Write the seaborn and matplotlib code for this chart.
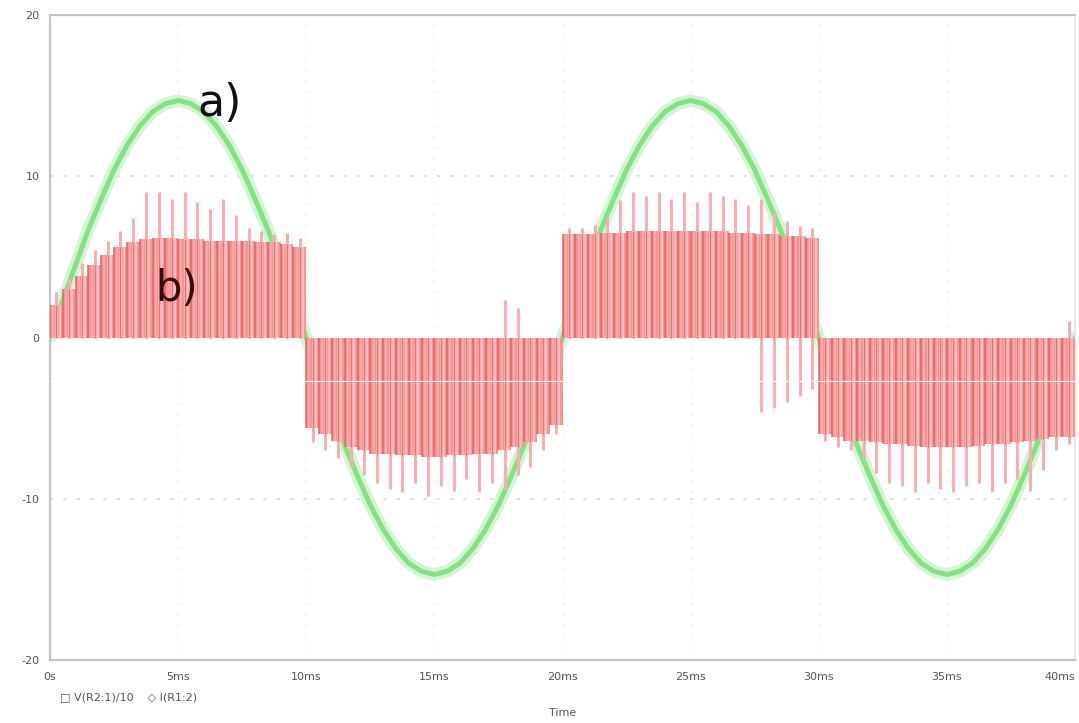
import numpy as np
import pandas as pd
import matplotlib
matplotlib.use('Agg')
import matplotlib.pyplot as plt
import seaborn as sns

# time grid in ms, one sample every 0.5 ms
time_ms = np.arange(0, 40.5, 0.5)

# a) supply voltage (scaled /10)
voltage = [0.0, 2.3, 4.5, 6.7, 8.6, 10.4, 11.9, 13.1, 14.0, 14.5,
           14.7, 14.5, 14.0, 13.1, 11.9, 10.4, 8.6, 6.7, 4.5, 2.3,
           0.0, -2.3, -4.5, -6.7, -8.6, -10.4, -11.9, -13.1, -14.0, -14.5,
           -14.7, -14.5, -14.0, -13.1, -11.9, -10.4, -8.6, -6.7, -4.5, -2.3,
           0.0, 2.3, 4.5, 6.7, 8.6, 10.4, 11.9, 13.1, 14.0, 14.5,
           14.7, 14.5, 14.0, 13.1, 11.9, 10.4, 8.6, 6.7, 4.5, 2.3,
           0.0, -2.3, -4.5, -6.7, -8.6, -10.4, -11.9, -13.1, -14.0, -14.5,
           -14.7, -14.5, -14.0, -13.1, -11.9, -10.4, -8.6, -6.7, -4.5, -2.3,
           0.0]

# b) current: solid level, spike tips, and lower end of the spikes
current_body = [2.0, 3.0, 3.8, 4.5, 5.1, 5.6, 5.9, 6.1, 6.2, 6.2,
                6.1, 6.1, 6.0, 6.0, 6.0, 6.0, 5.9, 5.9, 5.8, 5.6,
                -5.6, -6.0, -6.4, -6.8, -7.0, -7.2, -7.2, -7.3, -7.3, -7.4,
                -7.4, -7.3, -7.3, -7.2, -7.2, -7.0, -6.8, -6.5, -6.0, -5.4,
                6.4, 6.4, 6.4, 6.5, 6.5, 6.6, 6.6, 6.6, 6.6, 6.6,
                6.6, 6.6, 6.6, 6.5, 6.5, 6.4, 6.4, 6.3, 6.3, 6.2,
                -6.0, -6.2, -6.4, -6.4, -6.5, -6.6, -6.6, -6.7, -6.8, -6.8,
                -6.8, -6.8, -6.7, -6.6, -6.6, -6.5, -6.4, -6.3, -6.2, -6.2,
                -6.2]
current_peak = [2.8, 3.6, 4.6, 5.4, 6.0, 6.6, 7.4, 9.0, 9.0, 8.6,
                9.0, 8.4, 8.0, 8.6, 7.6, 6.8, 6.6, 6.4, 6.5, 6.2,
                -6.5, -7.0, -7.5, -8.0, -8.5, -9.0, -9.4, -9.6, -9.0, -9.8,
                -9.2, -9.5, -8.8, -9.6, -9.0, -9.4, -8.5, -8.0, -7.0, -6.0,
                6.8, 6.8, 7.0, 7.4, 8.5, 9.0, 8.8, 9.0, 8.6, 9.0,
                8.4, 9.0, 8.8, 8.6, 8.2, 8.6, 7.8, 7.2, 6.9, 6.8,
                -6.4, -6.8, -7.0, -7.6, -8.4, -9.0, -9.2, -9.6, -9.0, -9.4,
                -9.6, -9.2, -9.0, -9.6, -9.0, -8.8, -9.5, -8.2, -7.0, -6.6,
                -6.6]
current_back = [0.0] * 35 + [2.3, 1.8] + [0.0] * 18 + [-4.6, -4.4, -4.0, -3.6, -3.2] + [0.0] * 19 + [1.0, 1.0]

x_ticks = [0, 5, 10, 15, 20, 25, 30, 35, 40]
x_tick_labels = ['0s', '5ms', '10ms', '15ms', '20ms', '25ms', '30ms', '35ms', '40ms']
y_ticks = [-20, -10, 0, 10, 20]
y_tick_labels = ['-20', '-10', '0', '10', '20']

df = pd.DataFrame({'t': time_ms, 'v': voltage, 'body': current_body,
                   'peak': current_peak, 'back': current_back})
seg = df.iloc[:-1]

sns.set_theme(style='white')
plt.rcParams['font.family'] = ['DejaVu Sans']

fig = plt.figure(figsize=(10.79, 7.23), dpi=100)
ax = fig.add_axes([50 / 1079, 63 / 723, 1025 / 1079, 645 / 723])

# faint dotted grid like the simulator window
for yv in [-10, 10]:
    ax.axhline(yv, color='#d8d8d8', lw=1.2, ls=(0, (2, 6)), zorder=0)
for xv in x_ticks[1:-1]:
    ax.axvline(xv, color='#eeeeee', lw=1.0, ls=(0, (2, 6)), zorder=0)

# a) voltage, drawn under the current trace
sns.lineplot(data=df, x='t', y='v', ax=ax, color='#d2f5d2', lw=9, zorder=2, legend=False)
sns.lineplot(data=df, x='t', y='v', ax=ax, color='#86e086', lw=3.5, zorder=2.5, legend=False)

# b) current: filled body plus switching streaks and spikes
ax.fill_between(df['t'], 0, df['body'], step='post', color='#f59494', lw=0, zorder=3)
ax.vlines(seg['t'] + 0.25, seg['back'], seg['peak'], color='#f6b0b0', lw=2.2, zorder=4)
ax.vlines(seg['t'] + 0.375, 0, seg['body'], color='#f9bcbc', lw=1.6, zorder=4)
ax.vlines(seg['t'] + 0.125, 0, seg['body'], color='#f7aaaa', lw=1.4, zorder=4)
ax.vlines(seg['t'], 0, seg['body'], color='#d96a6a', lw=1.1, zorder=4)
ax.vlines(seg['t'] + 0.25, 0, seg['body'], color='#e07474', lw=0.8, zorder=4)

# scan-line artefact across the picture
ax.axhline(-2.7, color='white', lw=0.8, zorder=6)

ax.text(5.75, 14.5, 'a)', fontsize=32, color='#111111', va='center', ha='left', zorder=7)
ax.text(4.1, 3.0, 'b)', fontsize=30, color='#3a0c0c', va='center', ha='left', zorder=7)

ax.set_xlim(0, 40)
ax.set_ylim(-20, 20)
ax.set_xticks(x_ticks)
ax.set_xticklabels(x_tick_labels)
ax.get_xticklabels()[-1].set_ha('right')
ax.set_yticks(y_ticks)
ax.set_yticklabels(y_tick_labels)
ax.tick_params(axis='both', labelsize=8, colors='#555555', length=4, width=1, direction='out')
ax.tick_params(axis='x', pad=5)
ax.set_xlabel('')
ax.set_ylabel('')
for side in ['left', 'bottom', 'top']:
    ax.spines[side].set_color('#c4c4c4')
    ax.spines[side].set_linewidth(1.6)
ax.spines['right'].set_color('#e4e4e4')

fig.text(60 / 1079, 1 - 697 / 723, '\u25a1 V(R2:1)/10    \u25c7 I(R1:2)', fontsize=8,
         color='#555555', va='center', ha='left')
fig.text(563 / 1079, 1 - 713 / 723, 'Time', fontsize=8, color='#555555',
         va='center', ha='center')

fig.savefig('out.png', dpi=100)
